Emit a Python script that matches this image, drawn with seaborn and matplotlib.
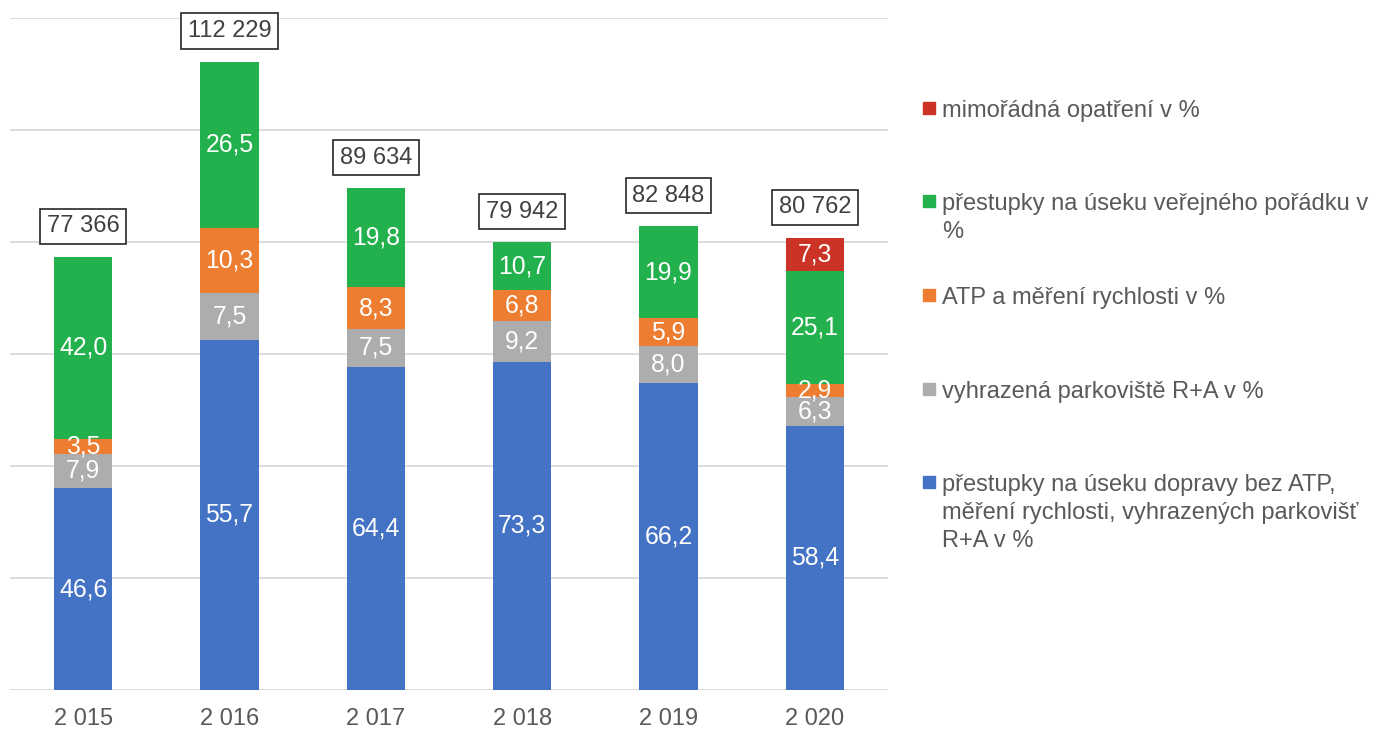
import pandas as pd
import matplotlib.pyplot as plt
import matplotlib.patches as mpatches
import seaborn as sns

# data
years = ["2 015", "2 016", "2 017", "2 018", "2 019", "2 020"]
totals = [77366, 112229, 89634, 79942, 82848, 80762]
doprava = [46.6, 55.7, 64.4, 73.3, 66.2, 58.4]
parkoviste = [7.9, 7.5, 7.5, 9.2, 8.0, 6.3]
atp = [3.5, 10.3, 8.3, 6.8, 5.9, 2.9]
poradek = [42.0, 26.5, 19.8, 10.7, 19.9, 25.1]
mimoradna = [0.0, 0.0, 0.0, 0.0, 0.0, 7.3]

series = [
    ("přestupky na úseku dopravy bez ATP,\nměření rychlosti, vyhrazených parkovišť\nR+A v %", doprava, "#4472C4"),
    ("vyhrazená parkoviště R+A v %", parkoviste, "#ADADB0"),
    ("ATP a měření rychlosti v %", atp, "#ED7D31"),
    ("přestupky na úseku veřejného pořádku v\n%", poradek, "#23B14D"),
    ("mimořádná opatření v %", mimoradna, "#CC3327"),
]

sns.set_style("white")
plt.rcParams['font.family'] = ['Liberation Sans', 'DejaVu Sans']

W, H = 1382, 729
fig = plt.figure(figsize=(W / 100, H / 100), dpi=100)
ax = fig.add_axes([10 / W, 39 / H, 878 / W, 672 / H])

# build counts per segment and cumulative tops
df = pd.DataFrame({"year": years, "total": totals})
cum = [0.0] * len(years)
layers = []
for name, pct, color in series:
    counts = [t * p / 100 for t, p in zip(totals, pct)]
    bottoms = cum[:]
    cum = [c + v for c, v in zip(cum, counts)]
    layers.append((name, pct, color, bottoms, counts, cum[:]))

# draw from the top layer down so lower layers cover the upper ones
for name, pct, color, bottoms, counts, tops in reversed(layers):
    df["top"] = tops
    sns.barplot(data=df, x="year", y="top", color=color, width=0.4,
                saturation=1, linewidth=0, ax=ax, zorder=2)

# segment labels
for name, pct, color, bottoms, counts, tops in layers:
    for i, (b, c, p) in enumerate(zip(bottoms, counts, pct)):
        if p <= 0:
            continue
        ax.text(i, b + c / 2, f"{p:.1f}".replace(".", ","), ha="center",
                va="center", color="white", fontsize=17.8, zorder=3)

# totals in boxes
for i, t in enumerate(totals):
    ax.annotate(f"{t:,}".replace(",", " "), (i, t), xytext=(0, 14),
                textcoords="offset points", ha="center", va="bottom",
                fontsize=17, color="#404040",
                bbox=dict(boxstyle="square,pad=0.28", fc="white", ec="#262626", lw=1.2))

ax.set_ylim(0, 120000)
ax.set_xlim(-0.5, 5.5)
ax.set_yticks(range(0, 120001, 20000))
ax.yaxis.grid(True, color="#D9D9D9", lw=1.3)
ax.set_axisbelow(True)
ax.set_yticklabels([])
ax.tick_params(axis="both", length=0)
ax.tick_params(axis="x", labelsize=17, labelcolor="#595959", pad=13)
ax.set_xlabel("")
ax.set_ylabel("")
for s in ax.spines.values():
    s.set_visible(False)

# legend drawn by hand so the markers line up with the first line
legend_baselines = [491, 398, 304, 210, 117]
for (name, pct, color, *_), yb in zip(layers, legend_baselines):
    fig.add_artist(mpatches.Rectangle((923 / W, 1 - (yb - 3) / H), 12 / W, 12 / H,
                                      transform=fig.transFigure, color=color))
    for k, line in enumerate(name.split("\n")):
        fig.text(942 / W, 1 - (yb + 28 * k) / H, line, va="baseline", ha="left",
                 fontsize=17, color="#595959")

fig.savefig("out.png", dpi=100)
